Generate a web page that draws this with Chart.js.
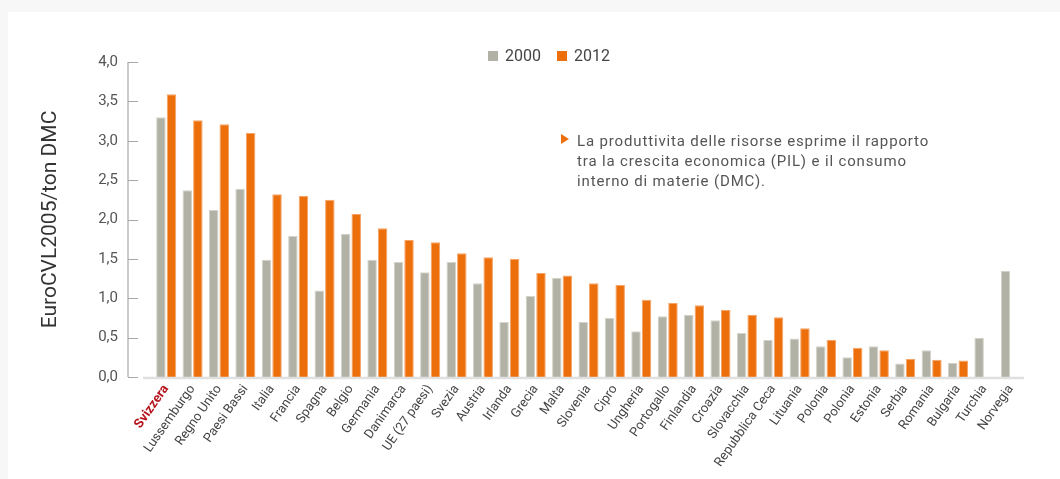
<!DOCTYPE html>
<html>
<head>
<meta charset="utf-8">
<script src="https://cdn.jsdelivr.net/npm/chart.js@4/dist/chart.umd.min.js"></script>
<style>
  body { margin: 0; background: #f7f7f7; font-family: Roboto, sans-serif; }
  #panel { position: absolute; left: 8px; top: 12px; right: 0; bottom: 0; background: #fff; }
  #wrap { position: absolute; left: 0; top: 0; width: 1060px; height: 479px; }
  #legend { position: absolute; left: 488px; top: 46px; font-size: 16px; color: #444; display: flex; }
  #legend span.item { display: flex; align-items: center; margin-right: 16px; }
  #legend i { display: inline-block; width: 10px; height: 10px; margin-right: 7px; }
  #note { position: absolute; left: 577px; top: 131px; font-size: 15px; line-height: 20px; color: #555; letter-spacing: 0.85px; }
  #tri { position: absolute; left: 561px; top: 134px; width: 0; height: 0;
         border-left: 8px solid #ec6f0c; border-top: 5px solid transparent; border-bottom: 5px solid transparent; }
</style>
</head>
<body>
<div id="panel"></div>
<div id="wrap"><canvas id="myChart"></canvas></div>
<div id="legend"></div>
<div id="tri"></div>
<div id="note">La produttivita delle risorse esprime il rapporto<br>tra la crescita economica (PIL) e il consumo<br>interno di materie (DMC).</div>
<script>
var categories = ['Svizzera', 'Lussemburgo', 'Regno Unito', 'Paesi Bassi', 'Italia', 'Francia', 'Spagna', 'Belgio',
  'Germania', 'Danimarca', 'UE (27 paesi)', 'Svezia', 'Austria', 'Irlanda', 'Grecia', 'Malta', 'Slovenia', 'Cipro',
  'Ungheria', 'Portogallo', 'Finlandia', 'Croazia', 'Slovacchia', 'Repubblica Ceca', 'Lituania', 'Polonia', 'Polonia',
  'Estonia', 'Serbia', 'Romania', 'Bulgaria', 'Turchia', 'Norvegia'];
var values2000 = [3.30, 2.37, 2.12, 2.39, 1.49, 1.79, 1.10, 1.82, 1.49, 1.46, 1.33, 1.46, 1.19, 0.70, 1.03, 1.26, 0.70, 0.75,
  0.58, 0.77, 0.79, 0.72, 0.56, 0.47, 0.49, 0.39, 0.25, 0.39, 0.17, 0.34, 0.18, 0.50, 1.35];
var values2012 = [3.59, 3.26, 3.21, 3.10, 2.32, 2.30, 2.25, 2.07, 1.89, 1.74, 1.71, 1.57, 1.52, 1.50, 1.32, 1.29, 1.19, 1.17,
  0.98, 0.94, 0.91, 0.85, 0.79, 0.76, 0.62, 0.47, 0.37, 0.34, 0.23, 0.22, 0.21, null, null];
var seriesNames = ['2000', '2012'];
var yTicks = [0, 0.5, 1, 1.5, 2, 2.5, 3, 3.5, 4];

var colors = ['#b1b1a5', '#ec6f0c'];
var borders = ['#d4d4cc', '#f5a466'];

// legend in html so it sits where the original has it
var legend = document.getElementById('legend');
seriesNames.forEach(function (name, i) {
  legend.innerHTML += '<span class="item"><i style="background:' + colors[i] + '"></i>' + name + '</span>';
});

// y axis line with inward ticks and the light baseline
var axisLines = {
  id: 'axisLines',
  afterDraw: function (chart) {
    var c = chart.ctx, a = chart.chartArea, y = chart.scales.y;
    var ax = a.left - 25;
    c.save();
    c.strokeStyle = '#a8a8a8';
    c.lineWidth = 1.2;
    c.beginPath();
    c.moveTo(ax, y.getPixelForValue(yTicks[yTicks.length - 1]));
    c.lineTo(ax, y.getPixelForValue(0));
    yTicks.forEach(function (t) {
      var py = Math.round(y.getPixelForValue(t)) + 0.5;
      c.moveTo(ax, py);
      c.lineTo(ax + 10, py);
    });
    c.stroke();
    c.strokeStyle = '#e0e0e0';
    c.lineWidth = 2.5;
    c.beginPath();
    c.moveTo(a.left - 10, y.getPixelForValue(0) + 1);
    c.lineTo(a.right, y.getPixelForValue(0) + 1);
    c.stroke();
    c.restore();
  }
};

var ctx = document.getElementById('myChart').getContext('2d');
var myChart = new Chart(ctx, {
  type: 'bar',
  data: {
    labels: categories,
    datasets: [{
      label: seriesNames[0],
      data: values2000,
      backgroundColor: colors[0],
      borderColor: borders[0],
      borderWidth: 1,
      borderSkipped: 'bottom'
    }, {
      label: seriesNames[1],
      data: values2012,
      backgroundColor: colors[1],
      borderColor: borders[1],
      borderWidth: 1,
      borderSkipped: 'bottom'
    }]
  },
  options: {
    responsive: true,
    maintainAspectRatio: false,
    animation: false,
    layout: { padding: { top: 62, right: 36, bottom: 0, left: 0 } },
    datasets: { bar: { categoryPercentage: 0.8, barPercentage: 0.9 } },
    plugins: { legend: { display: false }, tooltip: { enabled: false } },
    scales: {
      x: {
        grid: { display: false, drawTicks: false },
        border: { display: false },
        afterFit: function (s) { s.height = 102; },
        ticks: {
          minRotation: 55,
          maxRotation: 55,
          padding: 5,
          autoSkip: false,
          color: function (c) { return c.index === 0 ? '#b5121b' : '#444'; },
          font: function (c) {
            return { family: 'Roboto', size: 13, weight: c.index === 0 ? 'bold' : 'normal' };
          }
        }
      },
      y: {
        min: yTicks[0],
        max: yTicks[yTicks.length - 1],
        grid: { display: false, drawTicks: false },
        border: { display: false },
        afterFit: function (s) { s.width = 153; },
        afterBuildTicks: function (s) { s.ticks = yTicks.map(function (v) { return { value: v }; }); },
        ticks: {
          padding: 35,
          color: '#555',
          font: { family: 'Roboto', size: 15 },
          callback: function (v) { return v.toFixed(1).replace('.', ','); }
        },
        title: {
          display: true,
          text: 'EuroCVL2005/ton DMC',
          color: '#333',
          font: { family: 'Roboto', size: 21 },
          padding: { top: 38, bottom: 0 }
        }
      }
    }
  },
  plugins: [axisLines]
});
</script>
</body>
</html>
